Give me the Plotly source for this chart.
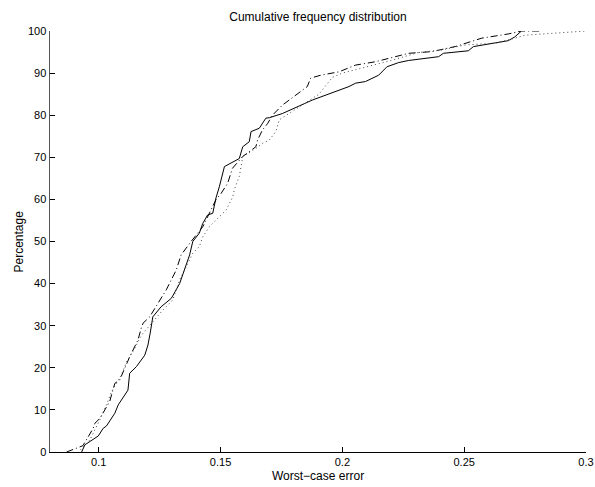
import plotly.graph_objects as go

# Solid series
solid_x = [0.093, 0.0943, 0.0998, 0.1018, 0.1032, 0.1066, 0.108, 0.112, 0.1127, 0.1155,
           0.1189, 0.1202, 0.1212, 0.1222, 0.1256, 0.1298, 0.1332, 0.1352, 0.1373, 0.1386,
           0.1413, 0.1427, 0.1447, 0.1468, 0.1481, 0.1495, 0.1516, 0.1577, 0.1591, 0.1618,
           0.1625, 0.1659, 0.1686, 0.170, 0.1754, 0.1877, 0.2027, 0.2054, 0.2095, 0.2149,
           0.2183, 0.2231, 0.2272, 0.2395, 0.2415, 0.2517, 0.2538, 0.2681, 0.2708, 0.2735]
solid_y = [0, 1.7, 3.8, 5.6, 6.2, 9.2, 11.2, 14.7, 18.7, 20.3,
           23, 25.4, 28.5, 32.1, 34.5, 36.5, 40, 43.6, 46.8, 50,
           52, 54.3, 56.3, 56.7, 60.3, 63, 67.8, 69.7, 72.5, 73.7,
           76.1, 76.9, 79.3, 79.4, 80.4, 83.6, 86.8, 87.6, 88, 89.5,
           91.5, 92.5, 93, 93.9, 94.7, 95.3, 96.3, 97.7, 98.6, 100]

# Dash-dot series
dashdot_x = [0.0868, 0.0909, 0.0935, 0.0977, 0.0984, 0.1005, 0.1045, 0.1066, 0.1086, 0.1127,
             0.1161, 0.1175, 0.1182, 0.1209, 0.1277, 0.1318, 0.1338, 0.1379, 0.1427, 0.1481,
             0.1502, 0.1529, 0.1549, 0.1591, 0.1645, 0.1652, 0.1672, 0.1693, 0.1713, 0.1754,
             0.1809, 0.1856, 0.187, 0.1911, 0.1986, 0.2054, 0.2136, 0.2218, 0.2272, 0.2367,
             0.2463, 0.2572, 0.2681, 0.2735, 0.2817]
dashdot_y = [0, 0.9, 1.5, 5.6, 6.8, 8, 12, 16.3, 17.1, 22.6,
             26.6, 29.5, 30.6, 32.1, 38.5, 43.2, 46.8, 50, 53.5, 59.9,
             61.4, 63.8, 67.4, 70.2, 72.5, 74.1, 76.5, 78, 80, 82.4,
             84.8, 86.8, 88.8, 89.5, 90.3, 91.9, 92.7, 93.9, 94.7, 95.1,
             96.3, 98.3, 99.3, 100, 100]

# Dotted series
dotted_x = [0.0925, 0.0964, 0.1004, 0.1032, 0.1052, 0.1093, 0.1114, 0.1148, 0.1168, 0.1182,
            0.1263, 0.1304, 0.1332, 0.1359, 0.1386, 0.1413, 0.1427, 0.1454, 0.1523, 0.155,
            0.1556, 0.1577, 0.1591, 0.1645, 0.1672, 0.170, 0.1727, 0.1741, 0.1781, 0.1849,
            0.1904, 0.1959, 0.200, 0.210, 0.220, 0.2313, 0.2408, 0.2506, 0.2629, 0.2708,
            0.2749, 0.300]
dotted_y = [0.5, 2.9, 7.6, 11.2, 14.3, 18.3, 21.4, 24.6, 27, 28.2,
            33.7, 36.1, 40.9, 44, 47.2, 48.8, 51.1, 53.5, 57.5, 60.6,
            62.2, 65.5, 70.1, 72.1, 73.3, 74.1, 76.1, 78.9, 80.4, 82.8,
            85, 89, 90, 91.5, 93, 94.9, 95.5, 96.7, 97.1, 98.3,
            99, 100]

x_ticks = [0.1, 0.15, 0.2, 0.25, 0.3]
x_tick_labels = ["0.1", "0.15", "0.2", "0.25", "0.3"]
y_ticks = list(range(0, 101, 10))

FAM = "Liberation Sans, Arial, Helvetica, sans-serif"
tick_font = dict(family=FAM, size=11, color="black")
label_font = dict(family=FAM, size=12, color="black")

L, R, T, B = 50, 9, 31, 35

fig = go.Figure()
fig.add_trace(go.Scatter(x=solid_x, y=solid_y, mode="lines",
                         line=dict(color="black", width=1, dash="solid"), showlegend=False))
fig.add_trace(go.Scatter(x=dashdot_x, y=dashdot_y, mode="lines",
                         line=dict(color="black", width=1, dash="7px,3px,1px,3px"), showlegend=False))
fig.add_trace(go.Scatter(x=dotted_x, y=dotted_y, mode="lines",
                         line=dict(color="#444444", width=1, dash="1px,3px"), showlegend=False))

fig.update_layout(
    width=595, height=487,
    margin=dict(l=L, r=R, t=T, b=B, pad=0),
    paper_bgcolor="white", plot_bgcolor="white",
    font=tick_font,
    title=dict(text="Cumulative frequency distribution", x=(L + 595 - R) / 2 / 595, xanchor="center",
               y=1 - 17 / 487, yanchor="middle", yref="container", font=label_font),
    xaxis=dict(range=[0.08, 0.3], tickvals=x_ticks, ticktext=x_tick_labels,
               showgrid=False, zeroline=False, showline=True, linecolor="black", linewidth=1,
               ticks="inside", ticklen=5, tickcolor="black", tickwidth=1,
               tickfont=tick_font, ticklabeloverflow="allow",
               automargin=False),
    yaxis=dict(range=[0, 100], tickvals=y_ticks,
               showgrid=False, zeroline=False, showline=True, linecolor="#555555", linewidth=1.5,
               ticks="inside", ticklen=5, tickcolor="black", tickwidth=1,
               tickfont=tick_font, ticklabeloverflow="allow",
               automargin=False),
    annotations=[
        dict(text="Worst\u2212case error", xref="paper", yref="paper", x=0.5, y=0,
             xanchor="center", yanchor="middle", yshift=-24, showarrow=False, font=label_font),
        dict(text="Percentage", xref="paper", yref="paper", x=0, y=0.5, textangle=-90,
             xanchor="center", yanchor="middle", xshift=-32, showarrow=False, font=label_font),
    ],
)

fig.write_html(
    "out.html",
    config={"displayModeBar": False, "staticPlot": True},
    post_script="document.body.style.margin='0';document.body.style.overflow='hidden';",
)
